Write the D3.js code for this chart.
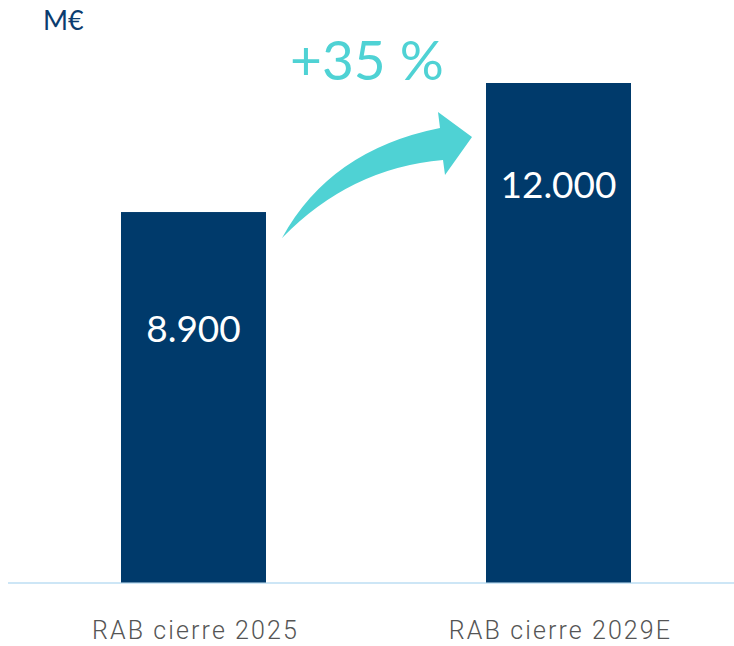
<!DOCTYPE html>
<html><head><meta charset="utf-8">
<script src="https://cdn.jsdelivr.net/npm/d3@7/dist/d3.min.js"></script>
<style>body{margin:0;background:#fff}svg{display:block}</style>
</head><body>
<svg id="c" width="734" height="646"></svg>
<script>
const categories = ["RAB cierre 2025", "RAB cierre 2029E"];
const values = [8900, 12000];
const valueLabels = ["8.900", "12.000"];
const unitLabel = "M€";
const growthLabel = "+35 %";

const svg = d3.select("#c");
const baseY = 582.5, topY = 83;
const bw = 145;
const xs = d3.scalePoint().domain(categories).range([193.5, 558.5]);
const y = d3.scaleLinear().domain([0, 12000]).range([baseY, topY]);

svg.append("line").attr("x1", 8).attr("x2", 734).attr("y1", baseY+0.5).attr("y2", baseY+0.5)
  .attr("stroke", "#cde6f6").attr("stroke-width", 2);

svg.selectAll("rect.bar").data(values).join("rect").attr("class","bar")
  .attr("x", (d,i) => xs(categories[i]) - bw/2).attr("width", bw)
  .attr("y", d => y(d)).attr("height", d => baseY - y(d))
  .attr("fill", "#003a6b");

const labelY = [342, 198];
svg.selectAll("text.val").data(valueLabels).join("text").attr("class","val")
  .attr("x", (d,i) => xs(categories[i])).attr("y", (d,i) => labelY[i])
  .attr("text-anchor","middle").attr("fill","#fff")
  .style("font-family","Lato, sans-serif").style("font-size","37px").text(d=>d);

svg.selectAll("text.cat").data(categories).join("text").attr("class","cat")
  .attr("x", d => xs(d)+2).attr("y", 639)
  .attr("text-anchor","middle").attr("fill","#555")
  .style("font-family","Roboto, sans-serif").style("font-weight","300").style("font-size","25px")
  .style("letter-spacing","2.1px").text(d=>d);

svg.append("text").attr("x", 43).attr("y", 30).attr("fill","#0b3c6f")
  .style("font-family","Lato, sans-serif").style("font-size","27px").text(unitLabel);

svg.append("text").attr("x", 367).attr("y", 80).attr("text-anchor","middle").attr("fill","#4fd2d4")
  .style("font-family","Lato, sans-serif").style("font-weight","400").style("font-size","55px").text(growthLabel);

svg.append("path")
  .attr("d","M282,238 Q330,150 440,128 L438,112 L472,137 L445,175 L443,160 Q350,168 282,238 Z")
  .attr("fill","#4fd2d4");
</script>
</body></html>
